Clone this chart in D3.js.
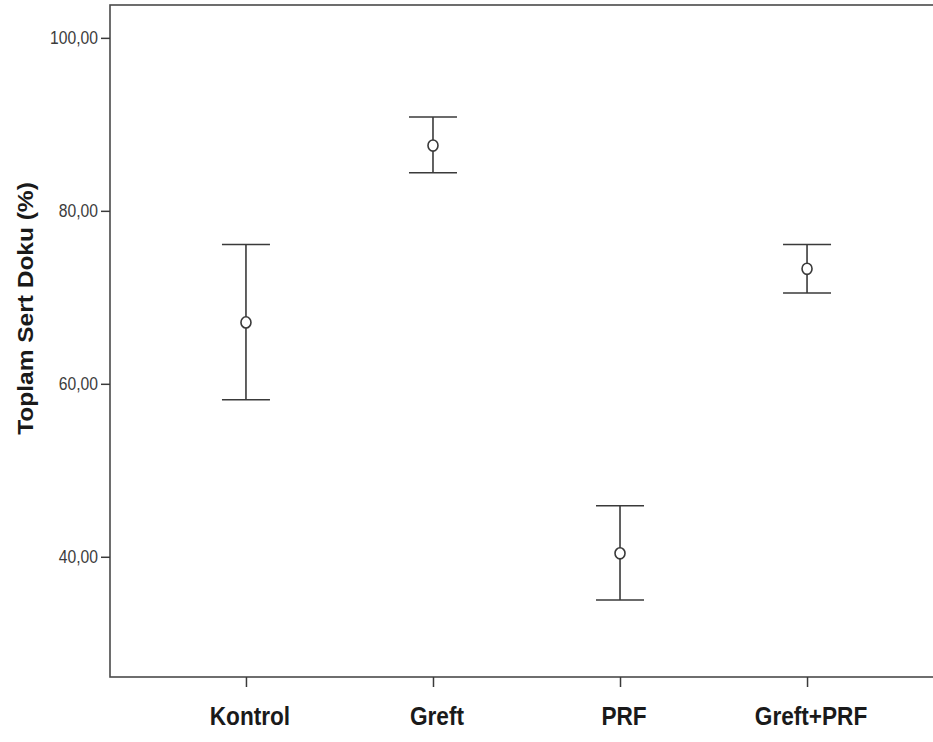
<!DOCTYPE html>
<html>
<head>
<meta charset="utf-8">
<script src="https://cdn.jsdelivr.net/npm/d3@7"></script>
<style>
  html, body { margin: 0; padding: 0; background: #fff; overflow: hidden; }
  svg { display: block; font-family: "Liberation Sans", Arial, sans-serif; }
</style>
</head>
<body>
<div id="chart"></div>
<script>
const groups = ['Kontrol', 'Greft', 'PRF', 'Greft+PRF'];
const means = [67.1, 87.55, 40.4, 73.3];
const lower = [58.15, 84.4, 35.0, 70.5];
const upper = [76.1, 90.85, 45.9, 76.1];
const yTicks = [40, 60, 80, 100];
const yTitle = 'Toplam Sert Doku (%)';

const width = 933, height = 742;
const margin = { top: 5, right: -10, bottom: 65, left: 110 };
const squeeze = 0.87; // text in the source image is horizontally compressed

const svg = d3.select('#chart')
    .append('svg')
    .attr('width', width)
    .attr('height', height);

const x = d3.scalePoint()
    .domain(groups)
    .range([margin.left, width - margin.right])
    .padding(0.727);

const y = d3.scaleLinear()
    .domain([26.1, 103.8])
    .range([height - margin.bottom, margin.top]);

const data = groups.map((g, i) => ({ g, mean: means[i], lo: lower[i], hi: upper[i] }));

// frame
svg.append('rect')
    .attr('x', margin.left)
    .attr('y', margin.top)
    .attr('width', width - margin.right - margin.left)
    .attr('height', height - margin.bottom - margin.top)
    .attr('fill', 'none')
    .attr('stroke', '#4a4a4a')
    .attr('stroke-width', 1.6);

// y axis
const yAxis = svg.append('g')
    .attr('transform', `translate(${margin.left},0)`)
    .call(d3.axisLeft(y).tickValues(yTicks).tickSize(9).tickPadding(3)
        .tickFormat(d => d3.format('.2f')(d).replace('.', ',')));
yAxis.select('.domain').remove();
yAxis.selectAll('.tick line').attr('stroke', '#3a3a3a').attr('stroke-width', 1.5);
yAxis.selectAll('.tick text')
    .attr('font-size', 18)
    .attr('fill', '#3c3c3c')
    .attr('font-family', '"Liberation Sans", Arial, sans-serif')
    .attr('x', null)
    .attr('dy', null)
    .attr('dominant-baseline', 'central')
    .attr('transform', `translate(-12,0) scale(${squeeze},1)`);

// x axis
const xAxis = svg.append('g')
    .attr('transform', `translate(0,${height - margin.bottom})`)
    .call(d3.axisBottom(x).tickSize(10).tickFormat(''));
xAxis.select('.domain').remove();
xAxis.selectAll('.tick line').attr('stroke', '#3a3a3a').attr('stroke-width', 1.5);

svg.append('g')
    .selectAll('text')
    .data(groups)
    .enter()
    .append('text')
    .attr('transform', d => `translate(${x(d) + 4},725) scale(${squeeze},1)`)
    .attr('text-anchor', 'middle')
    .attr('font-size', 26)
    .attr('font-weight', 'bold')
    .attr('fill', '#1a1a1a')
    .text(d => d);

// y title
svg.append('text')
    .attr('transform', `translate(33,${(180 + 437) / 2}) rotate(-90) scale(1,${squeeze})`)
    .attr('text-anchor', 'middle')
    .attr('font-size', 24.5)
    .attr('font-weight', 'bold')
    .attr('fill', '#1a1a1a')
    .text(yTitle);

// error bars
const capHalf = 24;
const bars = svg.append('g')
    .attr('stroke', '#3a3a3a')
    .attr('stroke-width', 1.6)
    .attr('fill', 'none');

bars.selectAll('.whisker')
    .data(data)
    .enter()
    .append('line')
    .attr('class', 'whisker')
    .attr('x1', d => x(d.g))
    .attr('x2', d => x(d.g))
    .attr('y1', d => y(d.hi))
    .attr('y2', d => y(d.lo));

bars.selectAll('.cap-hi')
    .data(data)
    .enter()
    .append('line')
    .attr('class', 'cap-hi')
    .attr('x1', d => x(d.g) - capHalf)
    .attr('x2', d => x(d.g) + capHalf)
    .attr('y1', d => y(d.hi))
    .attr('y2', d => y(d.hi));

bars.selectAll('.cap-lo')
    .data(data)
    .enter()
    .append('line')
    .attr('class', 'cap-lo')
    .attr('x1', d => x(d.g) - capHalf)
    .attr('x2', d => x(d.g) + capHalf)
    .attr('y1', d => y(d.lo))
    .attr('y2', d => y(d.lo));

bars.selectAll('.mean')
    .data(data)
    .enter()
    .append('ellipse')
    .attr('class', 'mean')
    .attr('cx', d => x(d.g))
    .attr('cy', d => y(d.mean))
    .attr('rx', 5)
    .attr('ry', 5.6)
    .attr('fill', '#fff');
</script>
</body>
</html>
